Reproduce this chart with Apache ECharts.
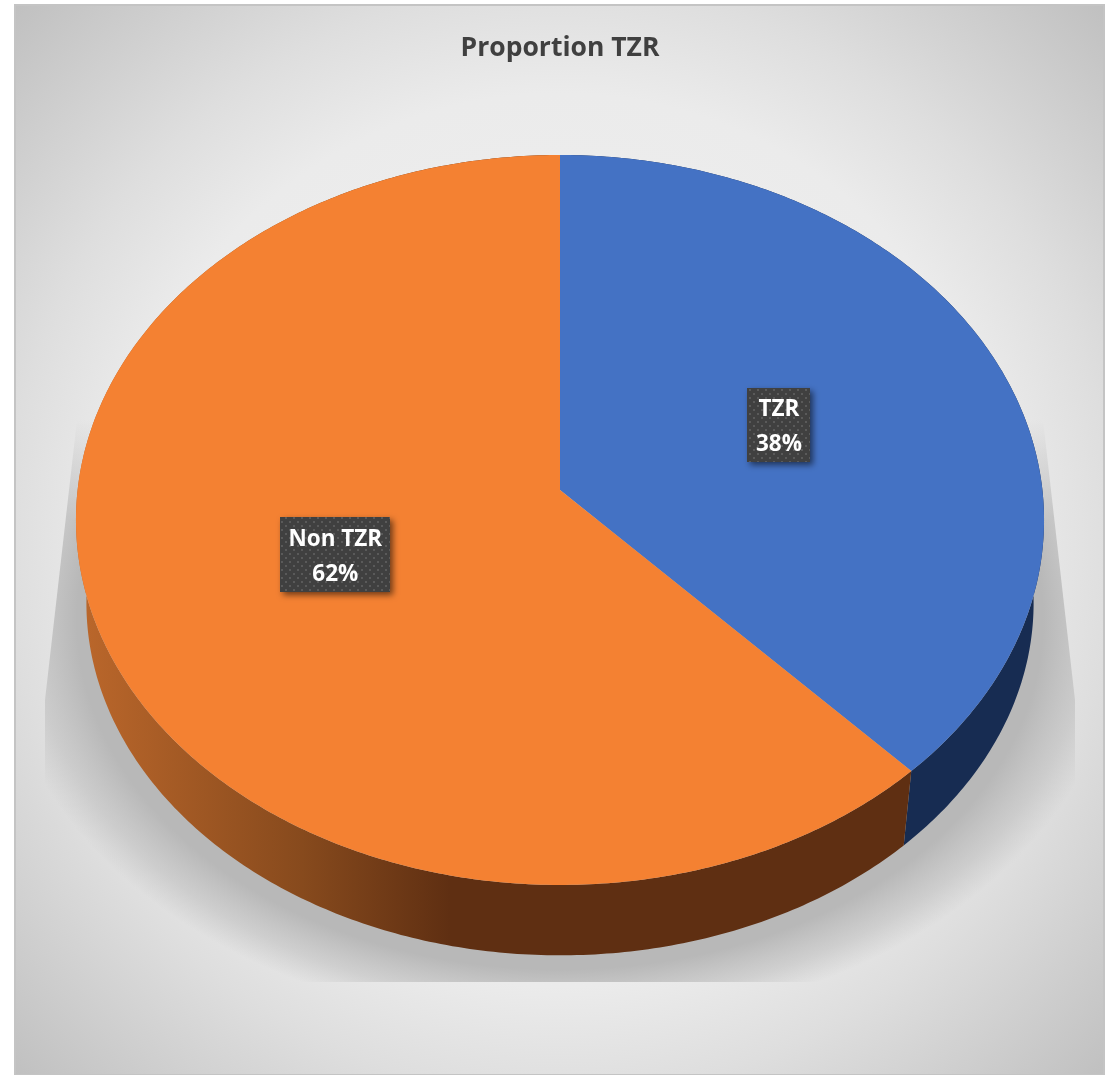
<!DOCTYPE html>
<html>
<head>
<meta charset="utf-8">
<style>html,body{margin:0;padding:0;background:#fff;overflow:hidden}#c{width:1116px;height:1075px}</style>
<script src="https://cdn.jsdelivr.net/npm/echarts@6/dist/echarts.min.js"></script>
</head>
<body>
<div id="c"></div>
<script>
const titleText = 'Proportion TZR';
const categories = ['TZR', 'Non TZR'];
const values = [38, 62];
const topColors = ['#4472c4', '#f48132'];

const total = values.reduce((a, b) => a + b, 0);
const K = -0.0822;
const TOP = { x: 560, y: 490, a: 482.4, b: 362.5 };
const BOT = { x: 560, y: 574, a: 472, b: 350 };
const nudge = [[-2, 1], [3, -3]];
const boxSize = [[63, 74], [110, 75]];

function project(E, deg, t) {
  const r = deg * Math.PI / 180, u = Math.sin(r) * t, v = -Math.cos(r) * t, w = 1 + K * v;
  return [E.x + E.a * u / w, E.y + E.b * v / w];
}
function arc(E, from, to) {
  const n = Math.max(2, Math.ceil((to - from) * 1.5)), pts = [];
  for (let i = 0; i <= n; i++) pts.push(project(E, from + (to - from) * i / n, 1));
  return pts;
}
function span(i) {
  let s = 0;
  for (let j = 0; j < i; j++) s += values[j];
  return [s / total * 360, (s + values[i]) / total * 360];
}
const wallFill = [
  '#172c52',
  { type: 'linear', x: 80, y: 0, x2: 450, y2: 0, global: true, colorStops: [
    { offset: 0, color: '#bb672b' }, { offset: 0.6, color: '#874a1d' }, { offset: 1, color: '#5f2f12' }] }
];

const tile = document.createElement('canvas');
tile.width = 8; tile.height = 8;
const tc = tile.getContext('2d');
tc.fillStyle = '#404040'; tc.fillRect(0, 0, 8, 8);
tc.fillStyle = '#5a5a5a'; tc.fillRect(1, 1, 2, 2); tc.fillRect(5, 5, 2, 2);

// floor shadow: soft ellipse restricted to a trapezoid, with a faded upper part
const SR = 575, S = 416 / SR, CY = 620;
const loc = p => [p[0], (p[1] - CY) / S];
const shadowLower = [[65.6, 520], [1054.4, 520], [1075, 700], [1075, 982], [45, 982], [45, 700]];
const shadowUpper = [[77, 420], [1043, 420], [1054.4, 520], [65.6, 520]];

function renderWall(params, api) {
  const i = params.dataIndex, sp = span(i);
  const pts = arc(TOP, sp[0], sp[1]).concat(arc(BOT, sp[0], sp[1]).reverse());
  return { type: 'polygon', shape: { points: pts }, style: { fill: wallFill[i] } };
}
function renderTop(params, api) {
  const i = params.dataIndex, sp = span(i);
  const pts = [[TOP.x, TOP.y]].concat(arc(TOP, sp[0], sp[1]));
  const mid = project(TOP, (sp[0] + sp[1]) / 2, 0.5);
  const cx = mid[0] + nudge[i][0], cy = mid[1] + nudge[i][1], bw = boxSize[i][0], bh = boxSize[i][1];
  return { type: 'group', children: [
    { type: 'polygon', shape: { points: pts }, style: { fill: topColors[i] } },
    { type: 'rect', shape: { x: Math.round(cx - bw / 2), y: Math.round(cy - bh / 2), width: bw, height: bh },
      style: { fill: { image: tile, repeat: 'repeat' }, shadowBlur: 6, shadowOffsetX: 3, shadowOffsetY: 3, shadowColor: 'rgba(0,0,0,0.55)' } },
    { type: 'text', x: cx, y: cy + 2, style: {
      text: categories[i] + '\n' + Math.round(api.value(0) / total * 100) + '%',
      fill: '#fff', font: 'bold 22.5px "Open Sans"', lineHeight: 35, align: 'center', verticalAlign: 'middle' } }
  ] };
}
function renderShadow() {
  return { type: 'group', children: [
    { type: 'polygon', shape: { points: shadowUpper }, style: { fill: {
      type: 'linear', x: 0, y: 420, x2: 0, y2: 520, global: true, colorStops: [
        { offset: 0, color: 'rgba(184,184,184,0)' }, { offset: 1, color: 'rgba(184,184,184,0.72)' }] } } },
    { type: 'group', x: 0, y: CY, scaleY: S, children: [
      { type: 'polygon', shape: { points: shadowLower.map(loc) }, style: { fill: {
        type: 'radial', x: 560, y: 0, r: SR, global: true, colorStops: [
          { offset: 0, color: 'rgba(184,184,184,1)' }, { offset: 0.84, color: 'rgba(184,184,184,1)' },
          { offset: 0.92, color: 'rgba(184,184,184,0.5)' }, { offset: 0.98, color: 'rgba(184,184,184,0)' }, { offset: 1, color: 'rgba(184,184,184,0)' }] } } }
    ] }
  ] };
}

const chart = echarts.init(document.getElementById('c'), null, { renderer: 'canvas' });
const seriesData = values.map(v => [v]);
chart.setOption({
  animation: false,
  backgroundColor: '#fff',
  title: { text: titleText, left: 555, top: 30, textAlign: 'center',
    textStyle: { fontFamily: '"Open Sans"', fontWeight: 'bold', fontSize: 26.5, color: '#404040' } },
  graphic: [{ type: 'rect', z: -10, silent: true,
    shape: { x: 15, y: 5, width: 1089, height: 1070 },
    style: { stroke: '#c4c4c4', lineWidth: 2, fill: {
      type: 'radial', x: 560, y: 540, r: 770, global: true, colorStops: [
        { offset: 0, color: '#f2f2f2' }, { offset: 0.58, color: '#ebebeb' },
        { offset: 0.72, color: '#dedede' }, { offset: 1, color: '#bfbfbf' }] } } }],
  series: [
    { type: 'custom', coordinateSystem: 'none', silent: true, z: 1, data: [[0]], renderItem: renderShadow },
    { type: 'custom', coordinateSystem: 'none', silent: true, z: 2, data: seriesData, renderItem: renderWall },
    { type: 'custom', coordinateSystem: 'none', silent: true, z: 3, data: seriesData, renderItem: renderTop }
  ]
});
</script>
</body>
</html>
